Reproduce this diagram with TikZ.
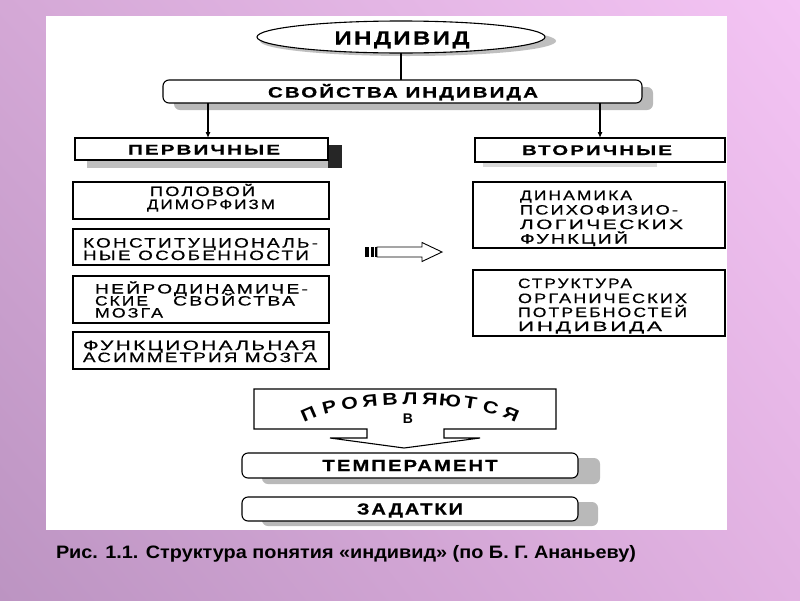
\documentclass[tikz,border=0pt]{standalone}
\usepackage{fontspec}
\setmainfont{Liberation Sans}
\newfontfamily\wreg[LetterSpace=12, FakeBold=0.6]{Liberation Sans}
\newfontfamily\wbold[LetterSpace=10, FakeBold=0.6]{Liberation Sans}
\usepackage{graphicx}
\usetikzlibrary{arrows.meta,calc,shapes.geometric,shadings}
\definecolor{bgtl}{RGB}{212,168,214}
\definecolor{bgtr}{RGB}{244,196,244}
\definecolor{bgbl}{RGB}{188,148,194}
\definecolor{bgbr}{RGB}{226,178,226}
\newcommand{\fitw}[2]{\resizebox{#1pt}{\height}{#2}}
\newcommand{\ftl}{\wreg\fontsize{13.5}{13.5}\selectfont}
\newcommand{\ftb}{\wbold\bfseries\fontsize{14}{14}\selectfont}
\newcommand{\ftS}{\wbold\bfseries\fontsize{15}{15}\selectfont}
\newcommand{\ftB}{\wbold\bfseries\fontsize{19}{19}\selectfont}
\newcommand{\ftT}{\wbold\bfseries\fontsize{16}{16}\selectfont}
\tikzset{
  lbl/.style={inner sep=0pt, outer sep=0pt},
  frame/.style={draw=black, line width=1.1pt, fill=white, inner sep=0pt, outer sep=0pt},
  rframe/.style={frame, rounded corners=6pt},
  shad/.style={fill=gray!55},
  conn/.style={line width=1.1pt},
  arr/.style={line width=1.1pt, -{Latex[length=6pt,width=5pt]}},
}
\begin{document}
\begin{tikzpicture}[x=1pt,y=-1pt]
\useasboundingbox (0,0) rectangle (800,600);
\shade[upper left=bgtl, upper right=bgtr, lower left=bgbl, lower right=bgbr] (0,0) rectangle (800,600);
\fill[white] (46,16) rectangle (727,530);

% top ellipse
\fill[gray!50] (408,41) ellipse [x radius=148, y radius=15];
\node[frame, ellipse, minimum width=288pt, minimum height=32pt] (ind) at (401,37) {};
\node[lbl, anchor=base] (indt) at (402,44.5) {\fitw{135}{\ftB ИНДИВИД}};

% properties box
\fill[shad, rounded corners=6pt] (174,87) rectangle (653,110);
\node[rframe, minimum width=479pt, minimum height=23pt] (svo) at (402.5,91.5) {};
\node[lbl, anchor=base] (svot) at (403,97.5) {\fitw{270}{\ftS СВОЙСТВА ИНДИВИДА}};
\draw[conn] (ind.south) -- (ind.south |- svo.north);

% primary / secondary headers
\fill[gray!50] (87,146) rectangle (342,168);
\fill[black!85] (328,145) rectangle (342,168);
\node[frame, minimum width=253pt, minimum height=22pt] (perv) at (201.5,149) {};
\node[lbl, anchor=base] (pervt) at (204,154.5) {\fitw{152}{\ftb ПЕРВИЧНЫЕ}};

\fill[gray!30] (483,160) rectangle (657,167);
\node[frame, minimum width=250pt, minimum height=24pt] (vtor) at (600,150) {};
\node[lbl, anchor=base] (vtort) at (597,155) {\fitw{150}{\ftb ВТОРИЧНЫЕ}};

\coordinate (p1) at (208,103);
\coordinate (p2) at (600,103);
\draw[arr] (p1) -- (p1 |- perv.north);
\draw[arr] (p2) -- (p2 |- vtor.north);

% left boxes
\node[frame, minimum width=256pt, minimum height=37pt] (b1) at (201,200.5) {};
\node[frame, minimum width=256pt, minimum height=36pt] (b2) at (201,247) {};
\node[frame, minimum width=256pt, minimum height=47pt] (b3) at (201,299.5) {};
\node[frame, minimum width=256pt, minimum height=37pt] (b4) at (201,350.5) {};

\node[lbl, anchor=base west] (b1a) at (150,196) {\fitw{105}{\ftl ПОЛОВОЙ}};
\node[lbl, anchor=base west] (b1b) at (147,209) {\fitw{128}{\ftl ДИМОРФИЗМ}};
\node[lbl, anchor=base west] (b2a) at (83,247.5) {\fitw{235}{\ftl КОНСТИТУЦИОНАЛЬ-}};
\node[lbl, anchor=base west] (b2b) at (83,260) {\fitw{226}{\ftl НЫЕ ОСОБЕННОСТИ}};
\node[lbl, anchor=base west] (b3a) at (95,293.5) {\fitw{213}{\ftl НЕЙРОДИНАМИЧЕ-}};
\node[lbl, anchor=base west] (b3b) at (95,305.5) {\hbox to 200pt{\fitw{53}{\ftl СКИЕ}\hfill\fitw{122}{\ftl СВОЙСТВА}}};
\node[lbl, anchor=base west] (b3c) at (95,317.5) {\fitw{68}{\ftl МОЗГА}};
\node[lbl, anchor=base west] (b4a) at (83,350) {\fitw{233}{\ftl ФУНКЦИОНАЛЬНАЯ}};
\node[lbl, anchor=base west] (b4b) at (83,362) {\fitw{234}{\ftl АСИММЕТРИЯ МОЗГА}};

% right boxes
\node[frame, minimum width=252pt, minimum height=66pt] (r1) at (599,215) {};
\node[frame, minimum width=252pt, minimum height=66pt] (r2) at (599,303) {};

\node[lbl, anchor=base west] (r1a) at (520,200) {\fitw{112}{\ftl ДИНАМИКА}};
\node[lbl, anchor=base west] (r1b) at (520,214.5) {\fitw{158}{\ftl ПСИХОФИЗИО-}};
\node[lbl, anchor=base west] (r1c) at (520,229) {\fitw{163}{\ftl ЛОГИЧЕСКИХ}};
\node[lbl, anchor=base west] (r1d) at (520,243.5) {\fitw{108}{\ftl ФУНКЦИЙ}};
\node[lbl, anchor=base west] (r2a) at (518,288) {\fitw{114}{\ftl СТРУКТУРА}};
\node[lbl, anchor=base west] (r2b) at (518,303) {\fitw{169}{\ftl ОРГАНИЧЕСКИХ}};
\node[lbl, anchor=base west] (r2c) at (518,317) {\fitw{169}{\ftl ПОТРЕБНОСТЕЙ}};
\node[lbl, anchor=base west] (r2d) at (518,331) {\fitw{144}{\ftl ИНДИВИДА}};

% hollow arrow between columns
\fill (365,247) rectangle (369,257);
\fill (370.5,247) rectangle (373.5,257);
\fill (375,247) rectangle (376.5,257);
\draw[line width=0.9pt, fill=white] (377,247) -- (422,247) -- (422,242.5) -- (442,252) -- (422,261.5) -- (422,257) -- (377,257) -- cycle;

% "manifest in" arrow
\draw[line width=1.1pt, fill=white] (254,389) -- (556,389) -- (556,429) -- (444,429) -- (444,438) -- (480,438) -- (404,448) -- (330,438) -- (367,438) -- (367,429) -- (254,429) -- cycle;
\foreach \ch [count=\i from 0] in {П,Р,О,Я,В,Л,Я,Ю,Т,С,Я} {
  \pgfmathsetmacro\xx{311+19.8*\i}
  \pgfmathsetmacro\uu{(\xx-410)/118}
  \pgfmathsetmacro\ss{sqrt(1-\uu*\uu)}
  \pgfmathsetmacro\yy{404.5+33*(1-\ss)}
  \pgfmathsetmacro\ang{-atan(33*\uu/(118*\ss))}
  \node[lbl, rotate=\ang, anchor=base] (pr\i) at (\xx,\yy) {\scalebox{1.25}[1]{\fontsize{17}{17}\bfseries\ch}};
}
\node[lbl, anchor=base] (prv) at (408,423) {\fontsize{14}{14}\bfseries В};

% bottom boxes
\fill[shad, rounded corners=6pt] (262,458) rectangle (600,484);
\node[rframe, minimum width=336pt, minimum height=25pt] (temp) at (410,465.5) {};
\node[lbl, anchor=base] (tempt) at (410,471) {\fitw{175}{\ftT ТЕМПЕРАМЕНТ}};

\fill[shad, rounded corners=6pt] (262,502) rectangle (598,526);
\node[rframe, minimum width=336pt, minimum height=24pt] (zad) at (410,509) {};
\node[lbl, anchor=base] (zadt) at (410,514.5) {\fitw{106}{\ftT ЗАДАТКИ}};

% caption
\node[lbl, anchor=base west] (cap) at (56,558) {\fitw{580}{\fontsize{18}{18}\bfseries Рис. 1.1. Структура понятия «индивид» (по Б. Г. Ананьеву)}};
\end{tikzpicture}
\end{document}
